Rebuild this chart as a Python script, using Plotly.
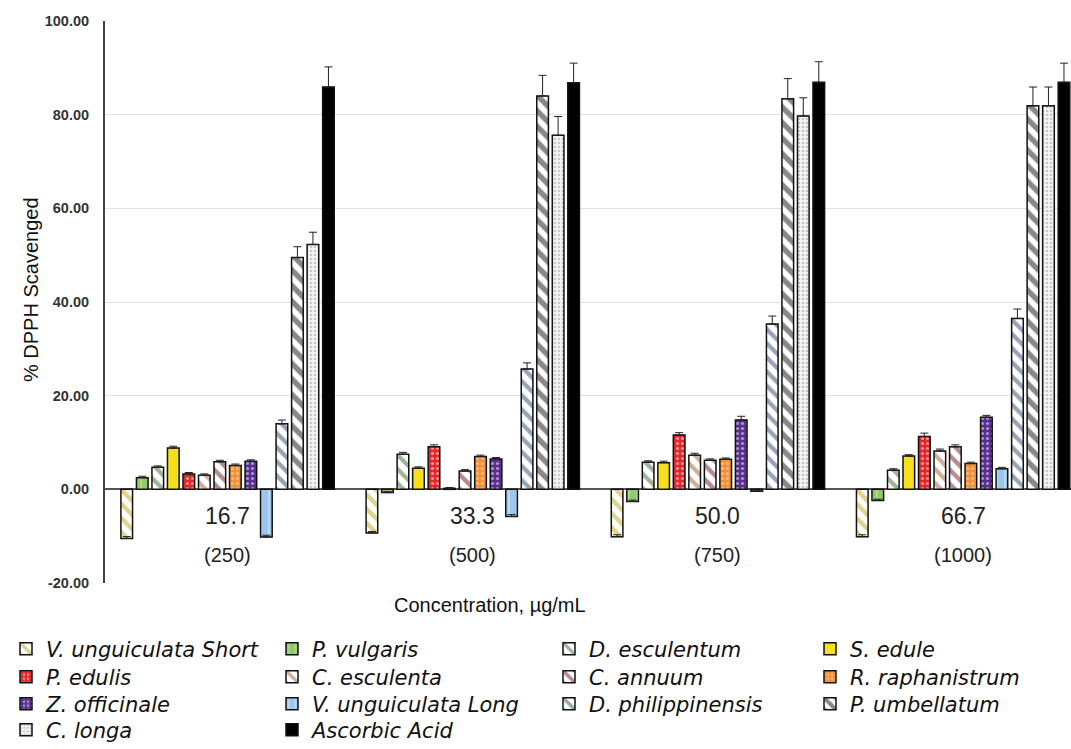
import plotly.graph_objects as go

categories = ["16.7", "33.3", "50.0", "66.7"]
ppm_labels = ["(250)", "(500)", "(750)", "(1000)"]

species = [
    "V. unguiculata Short", "P. vulgaris", "D. esculentum", "S. edule",
    "P. edulis", "C. esculenta", "C. annuum", "R. raphanistrum",
    "Z. officinale", "V. unguiculata Long", "D. philippinensis", "P. umbellatum",
    "C. longa", "Ascorbic Acid",
]

v_ung_short = [-10.5, -9.3, -10.1, -10.1]
p_vulgaris = [2.5, -0.7, -2.6, -2.4]
d_esculentum = [4.7, 7.5, 5.8, 4.1]
s_edule = [8.8, 4.5, 5.7, 7.1]
p_edulis = [3.3, 9.1, 11.6, 11.3]
c_esculenta = [3.0, 0.2, 7.3, 8.2]
c_annuum = [5.9, 3.9, 6.2, 9.1]
r_raphanistrum = [5.1, 7.0, 6.4, 5.5]
z_officinale = [6.0, 6.5, 14.8, 15.4]
v_ung_long = [-10.2, -5.8, -0.4, 4.4]
d_philippinensis = [14.0, 25.7, 35.3, 36.5]
p_umbellatum = [49.5, 84.0, 83.4, 81.9]
c_longa = [52.3, 75.6, 79.7, 81.9]
ascorbic = [85.9, 86.8, 86.9, 86.9]

err_v_ung_short = [0.4, 0.3, 0.4, 0.4]
err_p_vulgaris = [0.3, 0.2, 0.3, 0.3]
err_d_esculentum = [0.3, 0.4, 0.3, 0.3]
err_s_edule = [0.4, 0.3, 0.3, 0.3]
err_p_edulis = [0.3, 0.4, 0.5, 0.7]
err_c_esculenta = [0.3, 0.2, 0.4, 0.4]
err_c_annuum = [0.3, 0.3, 0.3, 0.4]
err_r_raphanistrum = [0.3, 0.3, 0.3, 0.3]
err_z_officinale = [0.3, 0.3, 0.8, 0.4]
err_v_ung_long = [0.4, 0.4, 0.2, 0.3]
err_d_philippinensis = [0.8, 1.3, 1.7, 2.0]
err_p_umbellatum = [2.3, 4.4, 4.3, 4.0]
err_c_longa = [2.6, 4.0, 3.9, 4.0]
err_ascorbic = [4.3, 4.2, 4.4, 4.1]

y_ticks = [-20, 0, 20, 40, 60, 80, 100]
y_ticktext = ["-20.00", "0.00", "20.00", "40.00", "60.00", "80.00", "100.00"]

values = [v_ung_short, p_vulgaris, d_esculentum, s_edule, p_edulis, c_esculenta,
          c_annuum, r_raphanistrum, z_officinale, v_ung_long, d_philippinensis,
          p_umbellatum, c_longa, ascorbic]
errors = [err_v_ung_short, err_p_vulgaris, err_d_esculentum, err_s_edule, err_p_edulis,
          err_c_esculenta, err_c_annuum, err_r_raphanistrum, err_z_officinale,
          err_v_ung_long, err_d_philippinensis, err_p_umbellatum, err_c_longa, err_ascorbic]

# style: (bar colour, pattern shape, pattern colour, size, solidity)
styles = [
    ("#ffffff", "\\", "#bfa91c", 10, 0.45),
    ("#93c96b", "|", "#c8e8b0", 8, 0.25),
    ("#ffffff", "\\", "#3d6b35", 10, 0.42),
    ("#f7e01b", "", "#ffffff", 8, 0.2),
    ("#e3262b", ".", "#ffffff", 5, 0.3),
    ("#ffffff", "\\", "#a0613a", 10, 0.42),
    ("#ffffff", "\\", "#6e1a26", 10, 0.45),
    ("#f29138", ".", "#fde0c0", 5, 0.3),
    ("#5a2d91", ".", "#ffffff", 5, 0.3),
    ("#9cc7ea", "|", "#e8f4fc", 8, 0.2),
    ("#ffffff", "\\", "#2f4870", 10, 0.42),
    ("#ffffff", "\\", "#111111", 11, 0.5),
    ("#f4f4f4", ".", "#9a9a9a", 4, 0.35),
    ("#000000", "", "#000000", 8, 0.2),
]

# plot area spans page x 105..1071, y 21..583 (body margin removed below)
FIG_W, FIG_H = 1071, 749
PL, PT, PW, PH = 105, 21, 966, 562


def px_x(vx):
    return (vx - PL) / PW


def px_y(vy):
    return (PT + PH - vy) / PH


legend_col_vx = [6, 272, 549, 810]
legend_row_vy = [649, 677, 704, 730]

fig = go.Figure()
legends = {}
legend_font = dict(size=21, color="#111111", family="DejaVu Sans", style="italic")
for i, (name, vals, errs, st) in enumerate(zip(species, values, errors, styles)):
    color, shape, fg, size, sol = st
    lid = "legend" if i == 0 else "legend%d" % (i + 1)
    legends[lid] = dict(orientation="v", x=px_x(legend_col_vx[i % 4]),
                        y=px_y(legend_row_vy[i // 4]),
                        xanchor="left", yanchor="middle", itemwidth=30,
                        font=legend_font, bgcolor="rgba(0,0,0,0)", borderwidth=0)
    fig.add_trace(go.Bar(
        x=categories, y=vals, name=name, legend=lid,
        marker=dict(color=color, line=dict(color="#111111", width=1.5),
                    pattern=dict(shape=shape, fgcolor=fg, size=size, solidity=sol,
                                 fillmode="overlay")),
        error_y=dict(type="data", array=errs, arrayminus=[0] * len(errs), symmetric=False,
                     color="#222222", thickness=1, width=4),
    ))

annotations = []
for i, (c, p) in enumerate(zip(categories, ppm_labels)):
    annotations.append(dict(x=i, y=0, xref="x", yref="y", text=c, showarrow=False,
                            yanchor="middle", yshift=-27,
                            font=dict(size=23, color="#222222", family="Liberation Sans, Arial")))
    annotations.append(dict(x=i, y=0, xref="x", yref="y", text=p, showarrow=False,
                            yanchor="middle", yshift=-66,
                            font=dict(size=20, color="#222222", family="Liberation Sans, Arial")))

annotations.append(dict(x=px_x(490), y=px_y(605), xref="paper", yref="paper",
                        text="Concentration, \u00b5g/mL", showarrow=False,
                        xanchor="center", yanchor="middle",
                        font=dict(size=20, color="#111111", family="Liberation Sans, Arial")))
annotations.append(dict(x=px_x(31), y=px_y(290), xref="paper", yref="paper",
                        text="% DPPH Scavenged", showarrow=False, textangle=-90,
                        xanchor="center", yanchor="middle",
                        font=dict(size=20, color="#111111", family="Liberation Sans, Arial")))

fig.update_layout(
    width=FIG_W, height=FIG_H,
    margin=dict(l=PL, r=FIG_W - PL - PW, t=PT, b=FIG_H - PT - PH, pad=0, autoexpand=False),
    paper_bgcolor="white", plot_bgcolor="white",
    barmode="group", bargap=0.114, bargroupgap=0.25,
    font=dict(family="Liberation Sans, Arial", color="#111111"),
    xaxis=dict(type="category", range=[-0.5, 3.44], showticklabels=False, showgrid=False,
               zeroline=False, showline=False, ticks=""),
    yaxis=dict(range=[-20, 100], tickvals=y_ticks, ticktext=y_ticktext,
               showgrid=True, gridcolor="#dde2e6", gridwidth=1,
               zeroline=True, zerolinecolor="#555555", zerolinewidth=1.5,
               showline=True, linecolor="#444444", linewidth=2,
               ticks="", ticklabelstandoff=11,
               tickfont=dict(size=14.5, color="#333333", family="Liberation Sans, Arial",
                             weight="bold")),
    annotations=annotations,
    showlegend=True,
    **legends,
)

fig.write_html("out.html", config={"displayModeBar": False},
               post_script="document.body.style.margin='0';document.body.style.overflow='hidden';")
